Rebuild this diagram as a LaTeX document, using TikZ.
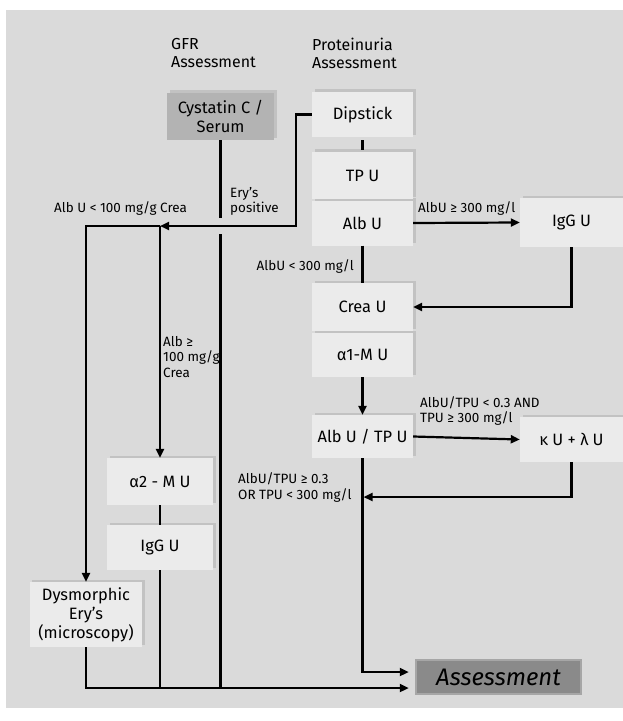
\documentclass[tikz,border=0pt]{standalone}
\usepackage{fontspec}
\setmainfont{Fira Sans}
\usepackage{tikz}
\usetikzlibrary{arrows.meta,shadows}
\definecolor{panel}{HTML}{DADADA}
\definecolor{boxbg}{HTML}{EBEBEB}
\definecolor{rim}{HTML}{C2C2C2}
\definecolor{cysfill}{HTML}{B3B3B3}
\definecolor{fin}{HTML}{8A8A8A}
\definecolor{finrim}{HTML}{A6A6A6}
\tikzset{
  test/.style={fill=boxbg,inner sep=0pt,align=center,
    font=\fontsize{16.5}{19}\selectfont,
    general shadow={fill=rim,shadow xshift=2.5bp,shadow yshift=2.5bp}},
  col/.style={test,minimum width=101bp},
  cond/.style={inner sep=0pt,align=left,font=\fontsize{13.5}{15.5}\selectfont},
  head/.style={inner sep=0pt,align=left,anchor=north west,font=\fontsize{16}{18}\selectfont},
  flow/.style={line width=2.2bp},
  arr/.style={flow,-{Triangle[length=9bp,width=8bp]}}}

\begin{document}
\begin{tikzpicture}[x=1bp,y=-1bp]
  \useasboundingbox (0,0) rectangle (623,721);
  \fill[panel] (6,10) rectangle (623,708);
  % column heads
  \node[head] (gfrhd) at (171,38) {GFR\\Assessment};
  \node[head] (prohd) at (312,38) {Proteinuria\\Assessment};
  % tests
  \node[test,fill=cysfill,minimum width=107bp,minimum height=47bp] (cys) at (220.5,116.5) {Cystatin C /\\Serum};
  \node[col,minimum height=45bp] (dip) at (362.5,114.5) {Dipstick};
  \node[col,minimum height=45bp] (alb) at (362.5,223) {Alb U};
  \node[col,minimum height=47bp] (tpu) at (362.5,175.5) {TP U};
  \node[col,minimum height=44bp] (aom) at (362.5,355) {α1-M U};
  \node[col,minimum height=48bp] (crea) at (362.5,307) {Crea U};
  \node[col,minimum height=43bp] (ratio) at (362.5,436.5) {Alb U / TP U};
  \node[test,minimum width=103bp,minimum height=49bp] (iggr) at (571.5,222.5) {IgG U};
  \node[test,minimum width=103bp,minimum height=45bp] (kl) at (571.5,439.5) {κ U + λ U};
  \node[test,minimum width=106bp,minimum height=47bp] (atm) at (160,481.5) {α2 - M U};
  \node[test,minimum width=106bp,minimum height=45bp] (iggl) at (160,547.5) {IgG U};
  \node[test,minimum width=112bp,minimum height=65bp] (dys) at (86,614.5) {Dysmorphic\\Ery’s\\(microscopy)};
  \node[fill=fin,draw=finrim,line width=2.5bp,minimum width=165bp,minimum height=34bp,
    font=\fontsize{24}{28}\selectfont\itshape] (assess) at (498.5,677) {Assessment};
  \coordinate (split) at (160,226);
  \coordinate (merge) at (362.5,497);
  \coordinate (base) at (86,688);
  % conditions
  \node[cond,anchor=west] (lowalb) at (54,209) {Alb U < 100 mg/g Crea};
  \node[cond,anchor=west] (ery) at (230,201.5) {Ery’s\\positive};
  \node[cond,anchor=west] (hialb) at (418,209) {AlbU ≥ 300 mg/l};
  \node[cond,anchor=east] (midalb) at (354,267) {AlbU < 300 mg/l};
  \node[cond,anchor=west] (albcrea) at (163,357) {Alb ≥\\100 mg/g\\Crea};
  \node[cond,anchor=west] (lowratio) at (420,411) {AlbU/TPU < 0.3 AND\\TPU ≥ 300 mg/l};
  \node[cond,anchor=west] (hiratio) at (238,487.5) {AlbU/TPU ≥ 0.3\\OR TPU < 300 mg/l};
  % connectors
  \draw[flow,shorten <=3bp,shorten >=2bp] (dip.south) -- (tpu.north);
  \draw[arr] (dip.west) -- ++(-16,0) |- (split);
  \draw[arr] (split) -| (dys.north);
  \draw[arr] (split) -- (atm.north);
  \draw[flow] (cys.south) -- ([yshift=8bp]cys.south |- split);
  \draw[flow] ([yshift=-8bp]cys.south |- split) -- (cys.south |- base);
  \draw[arr] (alb.east) -- (iggr.west);
  \draw[flow] (alb.south) -- (crea.north);
  \draw[arr] (iggr.south) |- (crea.east);
  \draw[arr] (aom.south) -- (ratio.north);
  \draw[arr] (ratio.east) -- (kl.west);
  \draw[arr,shorten >=1bp] (kl.south) |- (merge);
  \draw[arr,shorten >=6bp] (ratio.south) |- ([yshift=5bp]assess.west);
  \draw[flow] (atm.south) -- (iggl.north);
  \draw[flow] (iggl.south) -- (iggl.south |- base);
  \draw[arr,shorten >=6bp] (dys.south) |- ([yshift=-11bp]assess.west);
\end{tikzpicture}
\end{document}
